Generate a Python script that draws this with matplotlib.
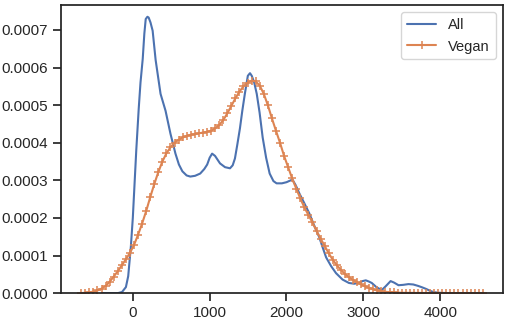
import numpy as np
import matplotlib
matplotlib.use("Agg")
import matplotlib.pyplot as plt
import seaborn as sns

# Vegan KDE curve: 100 evenly spaced grid points from -671 to 4555 (values x1e-4)
vegan_x_range = (-671, 4555)
vegan_y = [
    0.00, 0.01, 0.02, 0.04, 0.07, 0.12, 0.19, 0.30, 0.44, 0.58,
    0.74, 0.90, 1.07, 1.28, 1.55, 1.85, 2.18, 2.55, 2.90, 3.22,
    3.50, 3.72, 3.88, 4.00, 4.08, 4.14, 4.18, 4.21, 4.23, 4.25,
    4.27, 4.29, 4.32, 4.38, 4.47, 4.60, 4.78, 4.98, 5.18, 5.36,
    5.50, 5.60, 5.65, 5.63, 5.52, 5.30, 5.00, 4.65, 4.32, 4.00,
    3.65, 3.35, 3.05, 2.78, 2.52, 2.28, 2.08, 1.88, 1.66, 1.45,
    1.26, 1.06, 0.89, 0.74, 0.62, 0.51, 0.42, 0.35, 0.29, 0.23,
    0.18, 0.14, 0.10, 0.07, 0.05, 0.035, 0.025, 0.018, 0.013, 0.010,
    0.008, 0.007, 0.006, 0.005, 0.005, 0.004, 0.004, 0.003, 0.003, 0.003,
    0.002, 0.002, 0.002, 0.002, 0.001, 0.001, 0.001, 0.001, 0.001, 0.000,
]

# All KDE curve (x, y x1e-4)
all_x = [-400, -250, -194, -140, -90, -60, -26, 0, 20, 45, 77, 100, 129, 150, 168,
         190, 206, 230, 258, 297, 361, 426, 490, 555, 600, 645, 700, 748, 810, 877,
         930, 968, 1000, 1032, 1070, 1135, 1200, 1265, 1300, 1329, 1360, 1394, 1425,
         1458, 1497, 1525, 1548, 1580, 1613, 1650, 1690, 1735, 1781, 1830, 1871, 1940,
         2000, 2077, 2120, 2168, 2230, 2297, 2360, 2426, 2470, 2516, 2580, 2645, 2730,
         2813, 2880, 2942, 2990, 3032, 3070, 3110, 3170, 3239, 3290, 3355, 3400, 3458,
         3520, 3587, 3650, 3716, 3770, 3819, 3870, 3910, 3974, 4100]
all_y = [0, 0, 0.0, 0.03, 0.16, 0.45, 1.22, 2.0, 2.8, 3.8, 4.91, 5.6, 6.23, 6.9, 7.29,
         7.35, 7.33, 7.2, 6.98, 6.2, 5.3, 4.85, 4.24, 3.71, 3.42, 3.24, 3.13, 3.10, 3.12, 3.18,
         3.30, 3.42, 3.6, 3.71, 3.65, 3.45, 3.35, 3.32, 3.40, 3.58, 3.95, 4.38, 4.85,
         5.30, 5.78, 5.85, 5.78, 5.6, 5.30, 4.8, 4.14, 3.6, 3.18, 2.98, 2.92, 2.92,
         2.95, 3.02, 2.87, 2.65, 2.40, 2.12, 1.80, 1.49, 1.22, 0.95, 0.72, 0.53, 0.36,
         0.27, 0.25, 0.27, 0.32, 0.34, 0.31, 0.27, 0.16, 0.08, 0.18, 0.32, 0.28, 0.21,
         0.22, 0.24, 0.23, 0.19, 0.15, 0.11, 0.06, 0.03, 0.01, 0]

labels = ["All", "Vegan"]

sns.set_theme(style="ticks", context="notebook")
plt.rcParams['font.family'] = ['Liberation Sans', 'DejaVu Sans']

fig = plt.figure(figsize=(5.1, 3.2), dpi=100)
ax = fig.add_axes([0.12, 0.084, 0.866, 0.9])

vx = np.linspace(vegan_x_range[0], vegan_x_range[1], len(vegan_y))
ax.plot(np.array(all_x), np.array(all_y) * 1e-4, color="#4C72B0", lw=1.5, label=labels[0])
ax.plot(vx, np.array(vegan_y) * 1e-4, color="#DD8452", lw=1.5, marker="+",
        markersize=5.5, markeredgewidth=1.1, label=labels[1])

for s in ax.spines.values():
    s.set_color("#222222")

ax.set_xlim(-932, 4816)
ax.set_ylim(0, 0.000766)
ax.legend(loc="upper right", fontsize=10.5)

fig.savefig("out.png", dpi=100)
